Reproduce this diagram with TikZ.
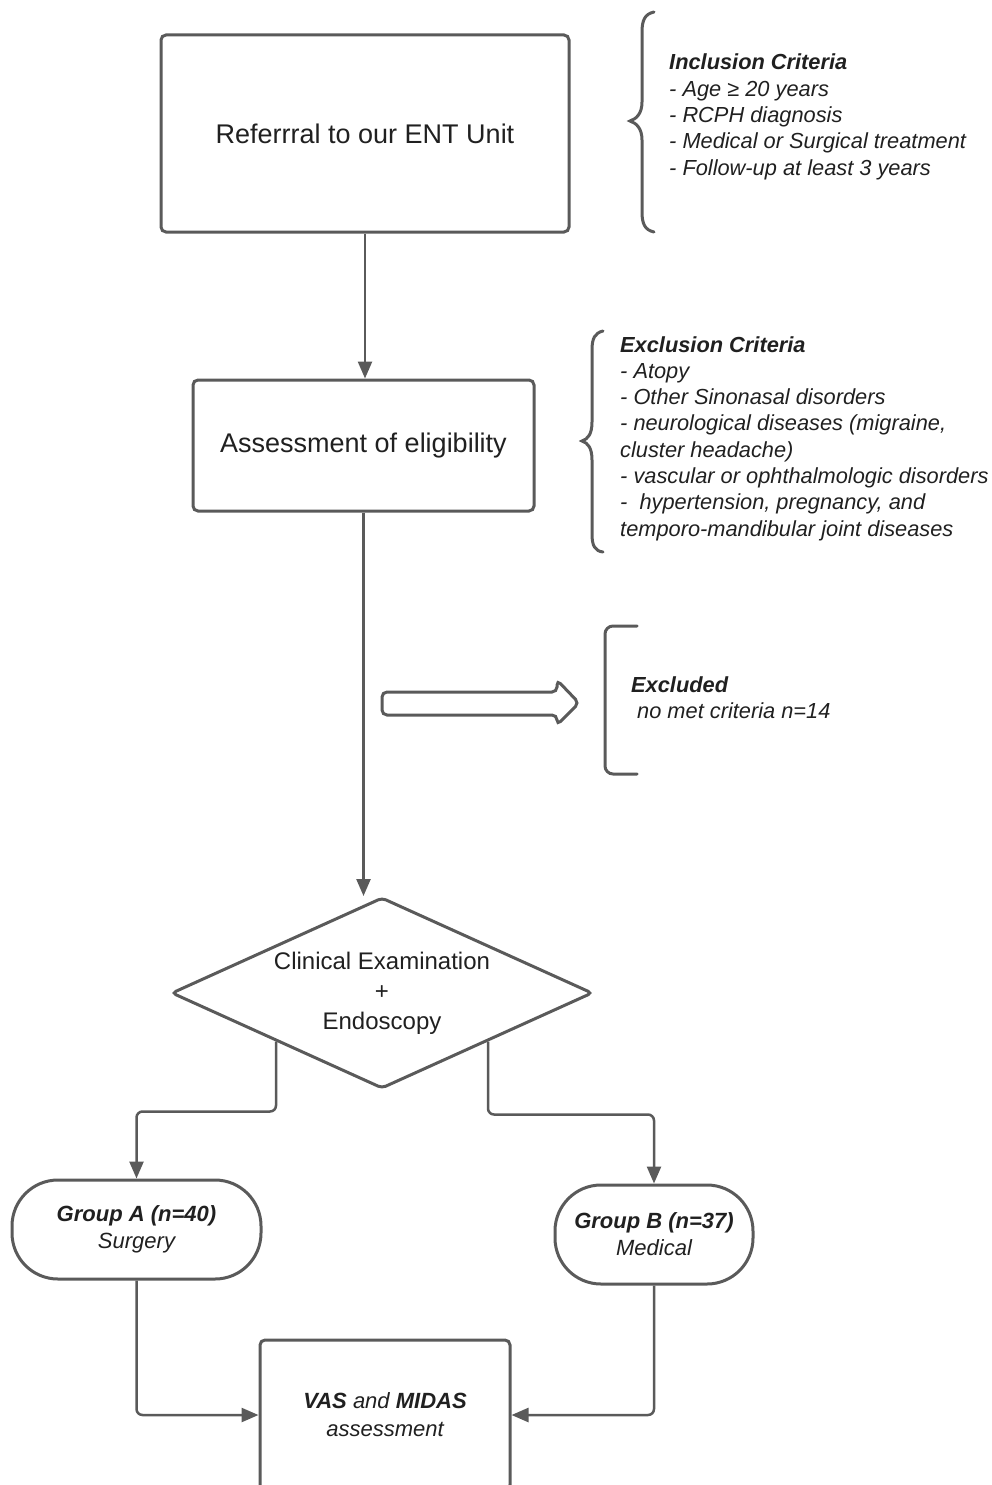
\documentclass[tikz,border=0pt]{standalone}
\usepackage{fontspec}
\setmainfont{Liberation Sans}
\usetikzlibrary{arrows.meta,shapes.geometric}
\definecolor{lc}{HTML}{5A5A5A}
\definecolor{tc}{HTML}{202020}
\begin{document}
\begin{tikzpicture}[x=1pt,y=-1pt,
  box/.style={draw=lc, line width=3pt, rounded corners=5pt, fill=white, text=tc,
    font=\fontsize{27}{32}\selectfont, inner sep=0pt, align=center},
  grp/.style={draw=lc, line width=3pt, rounded corners=46pt, text=tc, fill=white,
    font=\fontsize{22}{27}\selectfont\itshape, align=center, inner sep=0pt, minimum height=99pt},
  crit/.style={anchor=north west, align=left, inner sep=0pt, text=tc,
    font=\fontsize{21.8}{26.3}\selectfont\itshape},
  conn/.style={draw=lc, line width=2.5pt, rounded corners=6pt,
    -{Triangle[length=17pt,width=14pt]}},
  deco/.style={draw=lc, line width=3pt, line cap=round}
]
\useasboundingbox (0,0) rectangle (992,1485);
\clip (0,0) rectangle (992,1485);

% main boxes
\node[box, minimum width=408pt, minimum height=197pt] (ref) at (365,133.5) {Referrral to our ENT Unit};
\node[box, minimum width=341pt, minimum height=131pt] (elig) at (363.5,445.5) {Assessment of eligibility};
\node[diamond, draw=lc, line width=3pt, rounded corners=4pt, aspect=2.2,
  minimum width=421pt, minimum height=191pt, inner sep=0pt, align=center, text=tc,
  font=\fontsize{24}{30}\selectfont] (clin) at (382,993) {Clinical Examination\\+\\Endoscopy};
\node[grp, minimum width=249pt] (ga) at (136.5,1229.5) {\textbf{Group A (n=40)}\\Surgery};
\node[grp, minimum width=198pt] (gb) at (654,1234.5) {\textbf{Group B (n=37)}\\Medical};
\node[box, font=\fontsize{22}{28}\selectfont\itshape, minimum width=250pt, minimum height=150pt] (vas) at (385,1415) {\textbf{VAS} and \textbf{MIDAS}\\assessment};

% connectors
\draw[conn] (ref.south) -- (ref.south |- elig.north);
\draw[conn] (elig.south) -- (elig.south |- clin.north);
\draw[conn] (clin.south west) -- ++(0,70) -| (ga.north);
\draw[conn] (clin.south east) -- ++(0,73) -| (gb.north);
\draw[conn] (ga.south) |- (vas.west);
\draw[conn] (gb.south) |- (vas.east);

% hollow arrow
\draw[deco, line cap=butt, rounded corners=5pt, fill=white]
  (382,692) -- (557,692) -- (557,680) -- (579,703) -- (557,725) -- (557,715) -- (382,715) -- cycle;

% inclusion brace
\draw[deco] (654,12) .. controls (645,14) and (642,20) .. (642,32) -- (642,102)
  .. controls (642,114) and (636,119) .. (630,121)
  .. controls (636,123) and (642,128) .. (642,140) -- (642,212)
  .. controls (642,224) and (645,230) .. (654,232);
% exclusion brace
\draw[deco] (603,331) .. controls (595,333) and (592,338) .. (592,350) -- (592,422)
  .. controls (592,434) and (588,439) .. (582,441)
  .. controls (588,443) and (592,448) .. (592,460) -- (592,534)
  .. controls (592,546) and (595,551) .. (603,552);
% excluded bracket
\draw[deco, rounded corners=8pt] (637,626) -- (605,626) -- (605,774) -- (637,774);

% texts
\node[crit] (inc) at (669,54) {\textbf{Inclusion Criteria}\\- Age ≥ 20 years\\- RCPH diagnosis\\- Medical or Surgical treatment\\- Follow-up at least 3 years};
\node[crit] (exc) at (620,336) {\textbf{Exclusion Criteria}\\- Atopy\\- Other Sinonasal disorders\\- neurological diseases (migraine,\\cluster headache)\\- vascular or ophthalmologic disorders\\- \ hypertension, pregnancy, and\\temporo-mandibular joint diseases};
\node[crit] (excl) at (631,676) {\textbf{Excluded}\\\hspace*{6pt}no met criteria n=14};
\end{tikzpicture}
\end{document}
